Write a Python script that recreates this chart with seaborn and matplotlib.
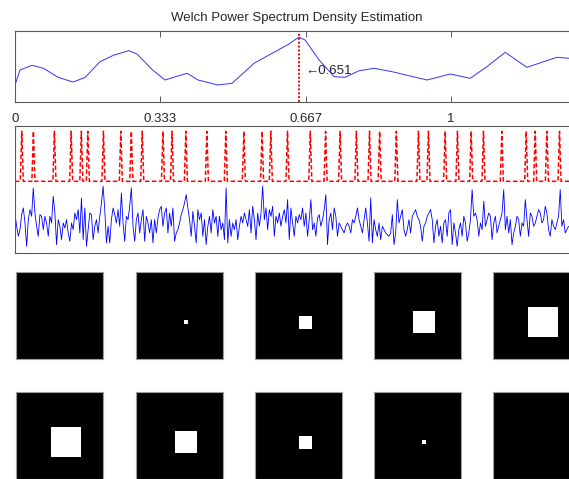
import numpy as np
import pandas as pd
import matplotlib
matplotlib.use("Agg")
from matplotlib import pyplot as plt
import seaborn as sns

# --- Welch PSD curve (frequency, psd)
psd_freq = [0.0, 0.0115, 0.039, 0.0654, 0.0987, 0.1331, 0.1607, 0.1951, 0.2272, 0.2616,
            0.28, 0.3156, 0.3443, 0.374, 0.3948, 0.42, 0.4652, 0.498, 0.5485, 0.5898,
            0.626, 0.651, 0.6656, 0.6977, 0.7322, 0.7574, 0.7896, 0.824, 0.8653, 0.9066,
            0.9456, 0.9984, 1.0443, 1.0826, 1.1246, 1.1744, 1.2433, 1.2715]
psd_vals = [1.67, 3.17, 3.64, 3.34, 2.44, 1.97, 2.42, 4.0, 4.67, 5.1,
            4.77, 3.17, 2.17, 2.57, 2.84, 2.17, 1.67, 1.84, 3.84, 4.84,
            5.7, 6.45, 6.17, 4.17, 2.5, 2.44, 3.1, 3.34, 3.0, 2.57,
            2.17, 2.77, 2.34, 3.5, 4.94, 3.44, 4.44, 4.34]
peak_freq = 0.651
xtick_vals = [0, 0.333, 0.667, 1]
xtick_labels = ["0", "0.333", "0.667", "1"]

# --- pulse train (spike locations) and noisy signal
spike_pos = [0.0156, 0.0422, 0.0904, 0.1288, 0.1522, 0.1671, 0.2029, 0.2428, 0.2669, 0.2919,
             0.3395, 0.3603, 0.3920, 0.4402, 0.4837, 0.5251, 0.5669, 0.5869, 0.6252, 0.6775,
             0.7126, 0.7459, 0.7833, 0.8134, 0.8366, 0.8749, 0.9256, 0.9486, 0.9869, 1.0151,
             1.0466, 1.0748, 1.1170, 1.1728, 1.1935, 1.2203, 1.2493]

noise_raw = [
    95, 130, 160, 140, 95, 75, 120, 190, 110, 80, 100, 15, 90, 130, 160, 95, 100, 140, 100, 120,
    160, 100, 120, 40, 90, 185, 110, 130, 170, 120, 135, 110, 150, 175, 120, 140, 90, 110, 80, 150,
    45, 170, 75, 190, 140, 90, 95, 170, 130, 110, 150, 100, 60, 10, 80, 180, 130, 180, 110, 75,
    95, 120, 80, 130, 30, 120, 175, 100, 110, 70, 15, 130, 175, 110, 90, 150, 110, 80, 175, 100,
    120, 150, 110, 180, 110, 150, 105, 80, 70, 130, 90, 75, 150, 90, 130, 75, 175, 150, 140, 120,
    95, 80, 60, 35, 75, 110, 160, 85, 130, 180, 80, 110,
    90, 160, 110, 185, 130, 100, 150, 80, 120, 100, 160, 100, 140, 120, 170, 15, 180, 110, 160, 120,
    140, 110, 170, 130, 100, 120, 90, 110, 130, 80, 150, 70, 110, 170, 90, 130, 90, 10, 110, 75,
    140, 80, 100, 70, 160, 100, 120, 90, 130, 100, 80, 120, 50, 170, 75, 120, 160, 100, 120, 95,
    110, 75, 130, 90, 160, 110, 50, 140, 120, 160, 105, 95, 130, 110, 80, 35, 185, 110, 90, 140,
    75, 100, 160, 120, 130, 140, 150, 130, 120, 130, 150, 110, 120, 100, 75, 110, 130, 150, 110, 75,
    120, 175, 45, 180, 110, 140, 160, 120, 170, 130, 140, 150,
    155, 160, 150, 95, 185, 150, 50, 120, 100, 80, 140, 160, 140, 110, 150, 100, 90, 80, 100, 110,
    130, 175, 130, 120, 100, 90, 80, 110, 180, 130, 110, 160, 130, 180, 120, 110, 160, 90, 80, 185,
    120, 150, 190, 140, 120, 160, 100, 120, 175, 150, 110, 20, 100, 90, 110, 160, 120, 140, 55, 130,
    110, 90, 100, 170, 120, 100, 150, 130, 110, 90, 20, 140, 100, 150, 110, 185, 150, 130, 100, 110,
    160, 120, 130, 50, 110, 160, 90, 100, 130, 120, 100, 80, 90, 120, 110, 70, 90, 140, 160, 110,
    130, 140, 120, 100, 20, 130, 110, 150, 140, 130,
]

# --- 20x20 frames: size of the white square in each frame
frame_sizes = [0, 1, 3, 5, 7, 7, 5, 3, 1, 0]
frame_n = 20
frame_center = 11

sns.set_style("white")
plt.rcParams['font.family'] = ['Liberation Sans', 'DejaVu Sans']

W, H = 569, 479
fig = plt.figure(figsize=(W / 100, H / 100), dpi=100)

def px_axes(x0, y0, x1, y1):
    return fig.add_axes([x0 / W, 1 - y1 / H, (x1 - x0) / W, (y1 - y0) / H])

spine_col = "#5a5a5a"
xmax = 1.294

# ---------------- top: PSD ----------------
ax1 = px_axes(15, 31, 579, 101.7)
psd_df = pd.DataFrame({"f": psd_freq, "p": psd_vals})
sns.lineplot(data=psd_df, x="f", y="p", ax=ax1, color="#3333ff", lw=0.7, estimator=None, sort=False)
ax1.axvline(peak_freq, color="red", lw=1.4, linestyle=(0, (1, 1)))
ax1.text(peak_freq + 0.015, 3.1, "\u21900.651", fontsize=9.5, ha="left", va="center")
ax1.set_xlim(0, xmax)
ax1.set_ylim(0, 7.07)
ax1.set_xticks(xtick_vals)
ax1.set_xticklabels(xtick_labels, fontsize=9.5)
ax1.set_yticks([])
ax1.tick_params(axis="x", direction="in", length=4, width=0.7, color=spine_col,
                top=True, bottom=True, pad=8)
ax1.set_xlabel("")
ax1.set_ylabel("")
ax1.set_title("Welch Power Spectrum Density Estimation", fontsize=9.5, pad=7)
for s in ax1.spines.values():
    s.set_color(spine_col)
    s.set_linewidth(0.8)

# ---------------- middle: pulse train + noise ----------------
ax2 = px_axes(15, 126, 579, 252.7)
hw = 0.0035
px_, py_ = [0.0], [3.5]
for s in spike_pos:
    px_ += [s - hw, s, s + hw]
    py_ += [3.5, 8.5, 3.5]
px_.append(1.28)
py_.append(3.5)
pulse_df = pd.DataFrame({"t": px_, "v": py_})
sns.lineplot(data=pulse_df, x="t", y="v", ax=ax2, color="red", lw=1.1,
             linestyle=(0, (2.9, 1.6)), estimator=None, sort=False)

noise_amp = (100 - np.array(noise_raw)) / 30.0
noise_t = np.linspace(0.0, 1.27, len(noise_amp))
noise_df = pd.DataFrame({"t": noise_t, "v": noise_amp})
sns.lineplot(data=noise_df, x="t", y="v", ax=ax2, color="blue", lw=0.6, estimator=None, sort=False)
ax2.set_xlim(0, xmax)
ax2.set_ylim(-3.64, 9.03)
ax2.set_xticks([])
ax2.set_yticks([])
ax2.set_xlabel("")
ax2.set_ylabel("")
for s in ax2.spines.values():
    s.set_color(spine_col)
    s.set_linewidth(0.8)

# ---------------- frames ----------------
col_x = [16, 136, 255, 374, 493]
row_y = [272, 392]
for i, size in enumerate(frame_sizes):
    r, c = divmod(i, 5)
    ax = px_axes(col_x[c], row_y[r], col_x[c] + 87, row_y[r] + 87)
    img = np.zeros((frame_n, frame_n))
    if size > 0:
        k = size // 2
        img[frame_center - k:frame_center + k + 1, frame_center - k:frame_center + k + 1] = 1
    sns.heatmap(img, ax=ax, cmap="gray", vmin=0, vmax=1, cbar=False,
                xticklabels=False, yticklabels=False)
    for s in ax.spines.values():
        s.set_visible(True)
        s.set_color("#a0a0a0")
        s.set_linewidth(0.8)

fig.savefig("out.png", dpi=100)
